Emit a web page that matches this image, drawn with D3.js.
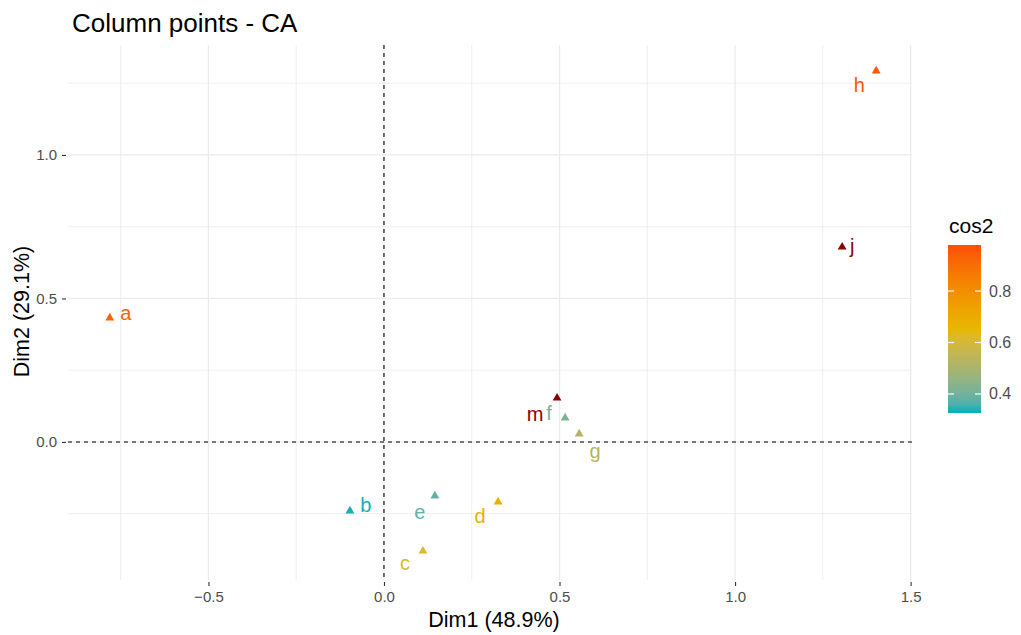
<!DOCTYPE html>
<html>
<head>
<meta charset="utf-8">
<script src="https://cdn.jsdelivr.net/npm/d3@7"></script>
<style>
  body { margin: 0; background: #fff; }
  svg { font-family: "Liberation Sans", Arial, sans-serif; }
</style>
</head>
<body>
<svg id="chart" width="1021" height="635"></svg>
<script>
// Column coordinates of the correspondence analysis
const labels = ["a", "b", "c", "d", "e", "f", "g", "h", "j", "m"];
const dim1 = [-0.781, -0.097, 0.111, 0.325, 0.145, 0.516, 0.556, 1.402, 1.305, 0.493];
const dim2 = [0.432, -0.240, -0.380, -0.209, -0.188, 0.084, 0.028, 1.293, 0.679, 0.153];
// Quality of representation (cos2); null values fall back to the NA colour
const cos2 = [0.93, 0.33, 0.62, 0.68, 0.38, 0.42, 0.52, 0.96, null, null];
const xTicks = [-0.5, 0.0, 0.5, 1.0, 1.5];
const yTicks = [0.0, 0.5, 1.0];
const legendTicks = [0.4, 0.6, 0.8];
// Label nudges (px) keeping text clear of the markers
const labelDx = [16, 16, -18, -18, -15, -16, 16, -17, 10, -22];
const labelDy = [-5, -6, 12, 14, 16, -5, 17, 14, -1, 16];

const svg = d3.select("#chart");
const panel = { left: 68, right: 912, top: 45, bottom: 580 };

const x = d3.scaleLinear().domain([-0.900, 1.504]).range([panel.left, panel.right]);
const y = d3.scaleLinear().domain([-0.481, 1.383]).range([panel.bottom, panel.top]);

const cosMin = 0.326, cosMax = 0.979, cosMid = 0.65;
const color = d3.scaleLinear()
  .domain([cosMin, cosMid, cosMax])
  .range(["#00AFBB", "#E7B800", "#FC4E07"])
  .interpolate(d3.interpolateLab)
  .clamp(true);
const naColor = "#8B0000";
const colorOf = v => (v == null ? naColor : color(v));

// Grid
const grid = svg.append("g");
const xMinor = [-0.75, -0.25, 0.25, 0.75, 1.25];
const yMinor = [-0.25, 0.25, 0.75, 1.25];
grid.selectAll(".xm").data(xMinor).enter().append("line")
  .attr("x1", d => x(d)).attr("x2", d => x(d))
  .attr("y1", panel.top).attr("y2", panel.bottom)
  .attr("stroke", "#EBEBEB").attr("stroke-width", 0.8);
grid.selectAll(".ym").data(yMinor).enter().append("line")
  .attr("y1", d => y(d)).attr("y2", d => y(d))
  .attr("x1", panel.left).attr("x2", panel.right)
  .attr("stroke", "#EBEBEB").attr("stroke-width", 0.8);
grid.selectAll(".xM").data(xTicks).enter().append("line")
  .attr("x1", d => x(d)).attr("x2", d => x(d))
  .attr("y1", panel.top).attr("y2", panel.bottom)
  .attr("stroke", "#EBEBEB").attr("stroke-width", 1.3);
grid.selectAll(".yM").data(yTicks).enter().append("line")
  .attr("y1", d => y(d)).attr("y2", d => y(d))
  .attr("x1", panel.left).attr("x2", panel.right)
  .attr("stroke", "#EBEBEB").attr("stroke-width", 1.3);

// Axes
const xAxis = svg.append("g")
  .attr("transform", `translate(0,${panel.bottom + 2})`)
  .call(d3.axisBottom(x).tickValues(xTicks).tickFormat(d3.format(".1f")).tickSize(4).tickPadding(5));
const yAxis = svg.append("g")
  .attr("transform", `translate(${panel.left - 2},0)`)
  .call(d3.axisLeft(y).tickValues(yTicks).tickFormat(d3.format(".1f")).tickSize(4).tickPadding(5));
[xAxis, yAxis].forEach(a => {
  a.select(".domain").remove();
  a.selectAll(".tick line").attr("stroke", "#333333").attr("stroke-width", 1.1);
  a.selectAll(".tick text").attr("fill", "#4D4D4D").style("font-size", "15px");
});

// Reference lines through the origin
svg.append("line")
  .attr("x1", x(0)).attr("x2", x(0)).attr("y1", panel.top).attr("y2", panel.bottom)
  .attr("stroke", "#000").attr("stroke-width", 1.1).attr("stroke-dasharray", "4,4");
svg.append("line")
  .attr("y1", y(0)).attr("y2", y(0)).attr("x1", panel.left).attr("x2", panel.right)
  .attr("stroke", "#000").attr("stroke-width", 1.1).attr("stroke-dasharray", "4,4");

// Points
const idx = d3.range(labels.length);
const tri = d3.symbol().type(d3.symbolTriangle).size(34);
svg.append("g").selectAll("path").data(idx).enter().append("path")
  .attr("d", tri)
  .attr("transform", i => `translate(${x(dim1[i])},${y(dim2[i])})`)
  .attr("fill", i => colorOf(cos2[i]));

// Point labels
svg.append("g").selectAll("text").data(idx).enter().append("text")
  .attr("x", i => x(dim1[i]) + labelDx[i])
  .attr("y", i => y(dim2[i]) + labelDy[i])
  .attr("text-anchor", "middle")
  .attr("dominant-baseline", "central")
  .attr("fill", i => colorOf(cos2[i]))
  .style("font-size", "20px")
  .text(i => labels[i]);

// Title and axis titles
svg.append("text").attr("x", 72).attr("y", 32)
  .style("font-size", "26px").attr("fill", "#000").text("Column points - CA");
svg.append("text").attr("x", (panel.left + panel.right) / 2 + 4).attr("y", 627)
  .attr("text-anchor", "middle").style("font-size", "21.5px").attr("fill", "#000")
  .text("Dim1 (48.9%)");
svg.append("text")
  .attr("transform", `translate(29,${(panel.top + panel.bottom) / 2 - 1}) rotate(-90)`)
  .attr("text-anchor", "middle").style("font-size", "21.5px").attr("fill", "#000")
  .text("Dim2 (29.1%)");

// Colour bar legend
const lg = { x: 948, top: 245, bottom: 413, w: 33 };
const ly = d3.scaleLinear().domain([cosMin, cosMax]).range([lg.bottom, lg.top]);
const defs = svg.append("defs");
const grad = defs.append("linearGradient").attr("id", "cosGrad")
  .attr("x1", 0).attr("y1", 1).attr("x2", 0).attr("y2", 0);
d3.range(0, 1.0001, 0.05).forEach(t => {
  grad.append("stop").attr("offset", t).attr("stop-color", color(cosMin + t * (cosMax - cosMin)));
});
svg.append("text").attr("x", lg.x + 1).attr("y", 233)
  .style("font-size", "21px").attr("fill", "#000").text("cos2");
svg.append("rect").attr("x", lg.x).attr("y", lg.top)
  .attr("width", lg.w).attr("height", lg.bottom - lg.top).attr("fill", "url(#cosGrad)");
const lt = svg.append("g").selectAll("g").data(legendTicks).enter().append("g");
lt.append("line").attr("x1", lg.x).attr("x2", lg.x + 6)
  .attr("y1", d => ly(d)).attr("y2", d => ly(d)).attr("stroke", "#fff").attr("stroke-width", 1.2);
lt.append("line").attr("x1", lg.x + lg.w - 6).attr("x2", lg.x + lg.w)
  .attr("y1", d => ly(d)).attr("y2", d => ly(d)).attr("stroke", "#fff").attr("stroke-width", 1.2);
lt.append("text").attr("x", lg.x + lg.w + 8).attr("y", d => ly(d))
  .attr("dominant-baseline", "central").style("font-size", "16px").attr("fill", "#4D4D4D")
  .text(d => d3.format(".1f")(d));
</script>
</body>
</html>
